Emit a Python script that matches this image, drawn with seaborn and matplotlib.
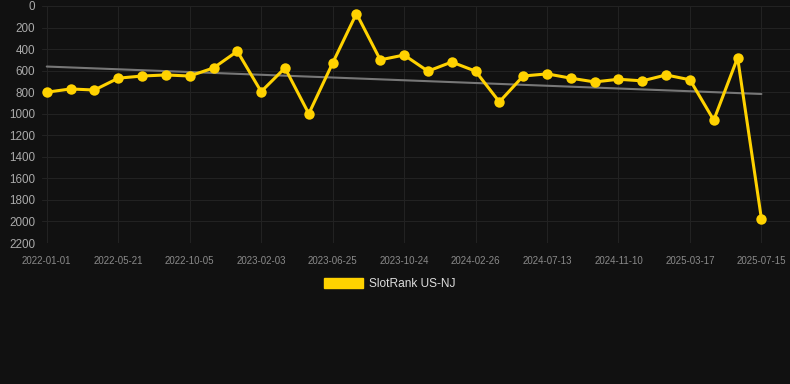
import numpy as np
import pandas as pd
import matplotlib
matplotlib.use("Agg")
import matplotlib.pyplot as plt
import matplotlib.patches as mpatches
import seaborn as sns

# -----------------------------
# Données
# -----------------------------
dates = [
    "2022-01-01", "2022-02-16", "2022-04-04", "2022-05-21", "2022-07-05",
    "2022-08-20", "2022-10-05", "2022-11-15", "2022-12-25", "2023-02-03",
    "2023-03-22", "2023-05-08", "2023-06-25", "2023-08-04", "2023-09-13",
    "2023-10-24", "2023-12-04", "2024-01-15", "2024-02-26", "2024-04-12",
    "2024-05-28", "2024-07-13", "2024-08-22", "2024-10-01", "2024-11-10",
    "2024-12-22", "2025-02-02", "2025-03-17", "2025-04-26", "2025-06-05",
    "2025-07-15",
]
rank = [
    800, 770, 780, 670, 650, 640, 650, 575, 420, 795,
    575, 1000, 530, 70, 500, 455, 605, 520, 605, 890,
    650, 630, 670, 705, 680, 695, 640, 685, 1060, 480,
    1975,
]
series_name = "SlotRank US-NJ"
yticks = [0, 200, 400, 600, 800, 1000, 1200, 1400, 1600, 1800, 2000, 2200]

df = pd.DataFrame({"date": dates, "rank": rank})
df["idx"] = np.arange(len(df))

# tendance linéaire
coef = np.polyfit(df["idx"], df["rank"], 1)
df["trend"] = np.polyval(coef, df["idx"])

# -----------------------------
# Figure
# -----------------------------
bg = "#111111"
grid_c = "#222222"
gold = "#FFD200"

sns.set_theme(style="dark")
plt.rcParams["font.family"] = ["Liberation Sans", "DejaVu Sans"]

fig = plt.figure(figsize=(7.9, 3.84), dpi=100, facecolor=bg)
ax = fig.add_axes([42 / 790, 1 - 243 / 384, 1 - 42 / 790, (243 - 6) / 384])
ax.set_facecolor(bg)

sns.lineplot(data=df, x="idx", y="trend", ax=ax, color="#777777", linewidth=1.5)
sns.lineplot(data=df, x="idx", y="rank", ax=ax, color=gold, linewidth=2.2,
             marker="o", markersize=7.5, markeredgewidth=0, markerfacecolor=gold)

ax.set_ylim(2200, 0)
ax.set_yticks(yticks)
ax.set_xlim(-0.2, 31.2)
tick_pos = df["idx"][::3]
ax.set_xticks(tick_pos)
ax.set_xticklabels(df["date"][::3])

ax.grid(True, color=grid_c, linewidth=0.8)
for s in ax.spines.values():
    s.set_visible(False)
ax.tick_params(axis="y", colors=grid_c, labelcolor="#aaaaaa", labelsize=8.4, length=4, pad=1)
ax.tick_params(axis="x", colors=grid_c, labelcolor="#8a8a8a", labelsize=7, length=6, pad=3)
ax.set_xlabel("")
ax.set_ylabel("")

handle = mpatches.Patch(color=gold, label=series_name)
fig.legend(handles=[handle], loc="center", bbox_to_anchor=(0.493, 1 - 284 / 384),
           frameon=False, fontsize=8.6, labelcolor="#dddddd",
           handlelength=3.3, handleheight=1.0, handletextpad=0.5)

fig.savefig("out.png", dpi=100, facecolor=bg)
